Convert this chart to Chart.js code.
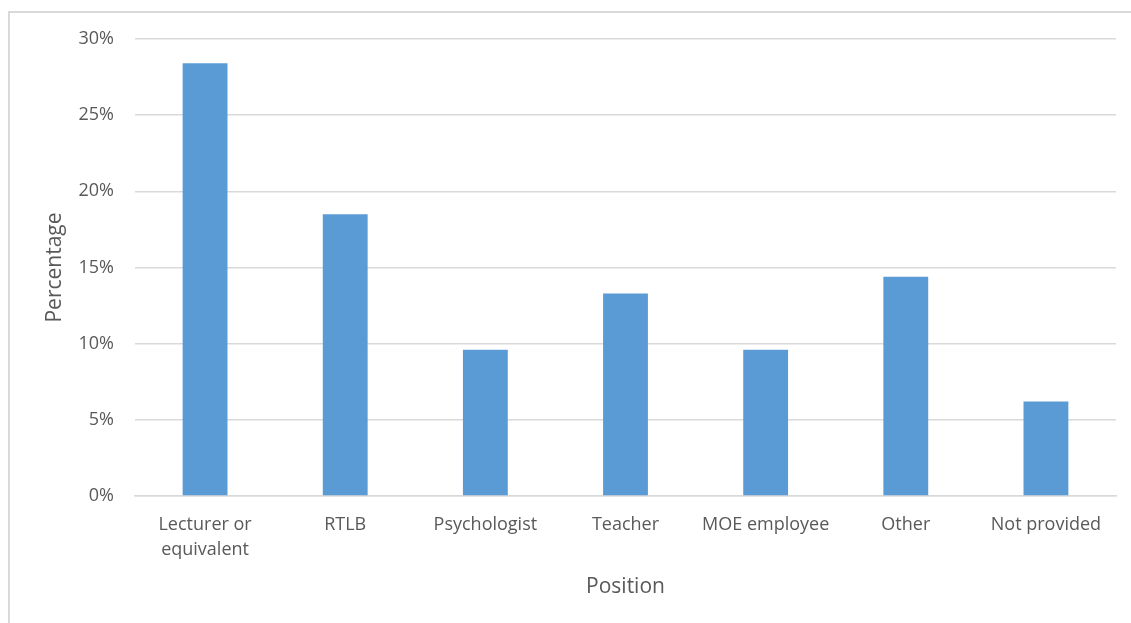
<!DOCTYPE html>
<html>
<head>
<meta charset="utf-8">
<script src="https://cdn.jsdelivr.net/npm/chart.js@4"></script>
<style>
  html, body { margin: 0; padding: 0; background: #fff; overflow: hidden; }
  #frame { position: absolute; left: 8px; top: 11px; width: 1140px; height: 620px;
           border-left: 2px solid #d9d9d9; border-top: 2px solid #d9d9d9; }
  #posChart { position: absolute; left: 0; top: 0; }
</style>
</head>
<body>
<div id="frame"></div>
<canvas id="posChart" width="1131" height="623"></canvas>
<script>
"use strict";

var positions = [['Lecturer or', 'equivalent'], 'RTLB', 'Psychologist', 'Teacher', 'MOE employee', 'Other', 'Not provided'];
var percentages = [28.4, 18.5, 9.6, 13.3, 9.6, 14.4, 6.2];
var yTicks = [0, 5, 10, 15, 20, 25, 30];

document.addEventListener('DOMContentLoaded', function () {
    var ctx = document.getElementById('posChart').getContext('2d');
    var font = "'Open Sans', 'Noto Sans', sans-serif";

    new Chart(ctx, {
        type: 'bar',
        data: {
            labels: positions,
            datasets: [{
                label: 'Percentage',
                data: percentages,
                backgroundColor: '#5b9bd5',
                borderWidth: 0,
                categoryPercentage: 1,
                barPercentage: 0.32
            }]
        },
        options: {
            responsive: false,
            animation: false,
            layout: {
                padding: { left: 42, top: 39, right: 15, bottom: 12 }
            },
            plugins: {
                legend: { display: false },
                tooltip: { enabled: false }
            },
            scales: {
                x: {
                    grid: { display: false, drawTicks: false },
                    border: { color: '#d9d9d9', width: 1.5 },
                    ticks: {
                        color: '#595959',
                        padding: 17,
                        maxRotation: 0,
                        autoSkip: false,
                        font: { family: font, size: 18, lineHeight: 1.35 }
                    },
                    title: {
                        display: true,
                        text: 'Position',
                        color: '#595959',
                        padding: { top: 0, bottom: 11 },
                        font: { family: font, size: 21 }
                    },
                    afterFit: function (axis) { axis.height = 115; }
                },
                y: {
                    min: 0,
                    max: 30,
                    afterBuildTicks: function (axis) {
                        axis.ticks = yTicks.map(function (v) { return { value: v }; });
                    },
                    grid: { color: '#d9d9d9', lineWidth: 1.5, drawTicks: false },
                    border: { display: false },
                    ticks: {
                        color: '#595959',
                        padding: 21,
                        font: { family: font, size: 18 },
                        callback: function (v) { return v + '%'; }
                    },
                    title: {
                        display: true,
                        text: 'Percentage',
                        color: '#595959',
                        padding: 0,
                        font: { family: font, size: 21 }
                    },
                    afterFit: function (axis) { axis.width = 93; }
                }
            }
        }
    });
});
</script>
</body>
</html>
